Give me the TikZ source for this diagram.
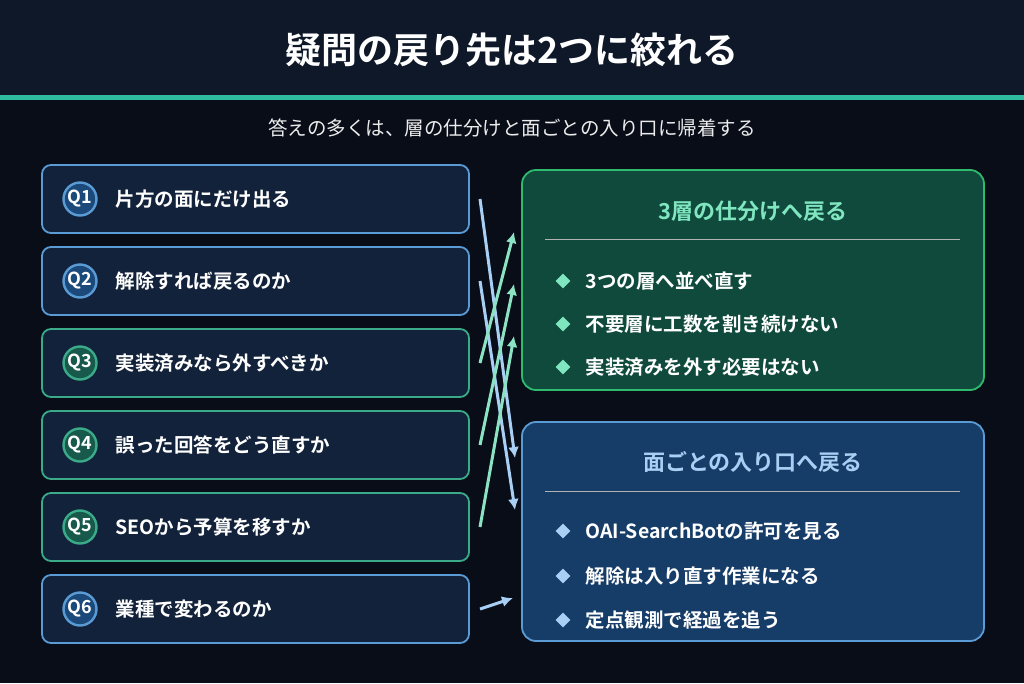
\documentclass[tikz,border=0pt]{standalone}
\usetikzlibrary{shapes.geometric,arrows.meta}
\usepackage{fontspec}
\setmainfont{Noto Sans CJK JP}
\newfontfamily\jpb{Noto Sans CJK JP}[BoldFont={* Bold}]
\begin{document}
\definecolor{bg}{HTML}{080D18}
\definecolor{band}{HTML}{0E1828}
\definecolor{lbox}{HTML}{12223A}
\definecolor{bl}{HTML}{5B9BD5}
\definecolor{gr}{HTML}{3AAA88}
\definecolor{bcirc}{HTML}{1B4A7A}
\definecolor{gcirc}{HTML}{17594B}
\definecolor{gbox}{HTML}{0F4A3C}
\definecolor{bbox}{HTML}{163C68}
\definecolor{ghead}{HTML}{7FE6C0}
\definecolor{bhead}{HTML}{A9CFF4}
\definecolor{barrow}{HTML}{A9CFF4}
\definecolor{garrow}{HTML}{8BE3C4}
\begin{tikzpicture}[x=1pt,y=-1pt,font=\jpb\bfseries,
 qbox/.style={draw=#1,line width=1.8pt,fill=lbox,rounded corners=9pt},
 qc/.style={circle,draw=#1,line width=2.4pt,minimum size=33pt,inner sep=0pt,text=white,font=\jpb\bfseries\fontsize{18}{18}\selectfont},
 qt/.style={anchor=west,text=white,font=\jpb\bfseries\fontsize{19.5}{19.5}\selectfont},
 it/.style={anchor=west,text=white,font=\jpb\bfseries\fontsize{19.5}{19.5}\selectfont},
 arr/.style={line width=3pt,-{Latex[length=11pt,width=11pt]},#1}]
\fill[bg] (0,0) rectangle (1024,683);
\useasboundingbox (0,0) rectangle (1024,683);
\fill[band] (0,0) rectangle (1024,96);
\fill[gr!80!cyan] (0,95) rectangle (1024,100);
\node[text=white,font=\jpb\bfseries\fontsize{36}{36}\selectfont] (title) at (512,50) {疑問の戻り先は2つに絞れる};
\node[text=white!85!gray,font=\jpb\fontsize{19.5}{19.5}\selectfont] (sub) at (512,128) {答えの多くは、層の仕分けと面ごとの入り口に帰着する};
% left boxes
\foreach \i/\y/\c/\cc/\t in {1/199/bl/bcirc/片方の面にだけ出る,2/281/bl/bcirc/解除すれば戻るのか,3/363/gr/gcirc/実装済みなら外すべきか,4/445/gr/gcirc/誤った回答をどう直すか,5/527/gr/gcirc/SEOから予算を移すか,6/609/bl/bcirc/業種で変わるのか}{
 \draw[qbox=\c] (42,\y-34) rectangle (469,\y+34);
 \node[qc=\c,fill=\cc] (q\i) at (80,\y) {Q\i};
 \node[qt] (t\i) at (112,\y) {\t};
 \coordinate (s\i) at (480,\y);
}
% right boxes
\draw[draw=gr!80!green,line width=1.8pt,fill=gbox,rounded corners=14pt] (522,170) rectangle (984,390);
\node[text=ghead,font=\jpb\bfseries\fontsize{22}{22}\selectfont] (h1) at (753,211) {3層の仕分けへ戻る};
\draw[gray!60,line width=0.8pt] (545,239) -- (960,239);
\draw[draw=bl,line width=1.8pt,fill=bbox,rounded corners=14pt] (522,422) rectangle (984,641);
\node[text=bhead,font=\jpb\bfseries\fontsize{22}{22}\selectfont] (h2) at (753,462) {面ごとの入り口へ戻る};
\draw[gray!60,line width=0.8pt] (545,491) -- (960,491);
\foreach \y/\t [count=\k] in {281/3つの層へ並べ直す,324/不要層に工数を割き続けない,367/実装済みを外す必要はない}{
 \node[fill=ghead,diamond,inner sep=0pt,minimum size=15pt] (gd\k) at (563,\y) {};
 \node[it] (gi\k) at (582,\y) {\t};}
\foreach \y/\t [count=\k] in {531/OAI-SearchBotの許可を見る,576/解除は入り直す作業になる,620/定点観測で経過を追う}{
 \node[fill=bhead,diamond,inner sep=0pt,minimum size=15pt] (bd\k) at (563,\y) {};
 \node[it] (bi\k) at (582,\y) {\t};}
% arrow endpoints
\coordinate (e1) at (515,458);
\coordinate (e2) at (515,510);
\coordinate (e3) at (514,232);
\coordinate (e4) at (514,284);
\coordinate (e5) at (514,336);
\coordinate (e6) at (513,598);
\draw[arr=barrow] (s1) -- (e1);
\draw[arr=barrow] (s2) -- (e2);
\draw[arr=garrow] (s3) -- (e3);
\draw[arr=garrow] (s4) -- (e4);
\draw[arr=garrow] (s5) -- (e5);
\draw[arr=barrow] (s6) -- (e6);
\end{tikzpicture}
\end{document}
